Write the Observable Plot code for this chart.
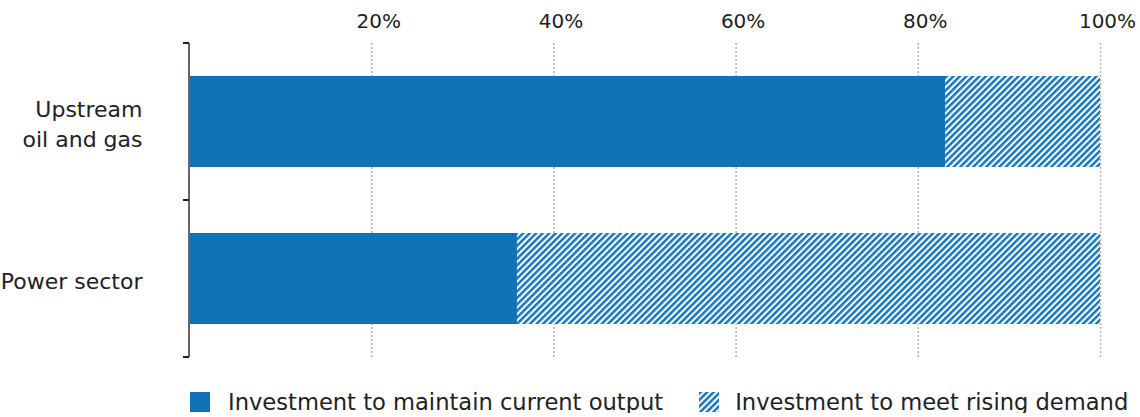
<!DOCTYPE html>
<html><head><meta charset="utf-8">
<script src="https://cdn.jsdelivr.net/npm/d3@7"></script>
<script src="https://cdn.jsdelivr.net/npm/@observablehq/plot@0.6"></script>
<style>
body{margin:0;background:#fff;font-family:"DejaVu Sans",sans-serif;color:#222;}
#chart svg{display:block;}
#legend{display:flex;align-items:center;margin-left:190px;margin-top:16px;font-size:22.6px;line-height:22px;white-space:nowrap;}
#legend .sw{display:block;width:20px;height:20px;flex:none;}
</style></head><body>
<svg width="0" height="0" style="position:absolute"><defs>
<pattern id="hatch" patternUnits="userSpaceOnUse" width="4.6" height="4.6" patternTransform="rotate(45)">
<rect width="4.6" height="4.6" fill="#ffffff"/><rect width="2.5" height="4.6" fill="#1476bd"/>
</pattern></defs></svg>
<div id="chart"></div>
<div id="legend"></div>
<script>
const categories = ["Upstream oil and gas", "Power sector"];
const categoryLabels = ["Upstream\noil and gas", "Power sector"];
const maintainShare = [83, 36];
const risingShare = [17, 64];
const xTicks = [20, 40, 60, 80, 100];
const seriesNames = ["Investment to maintain current output", "Investment to meet rising demand"];
const seriesFills = ["#0f73b8", "url(#hatch)"];

const rows = categories.map((c, i) => ({sector: c, maintain: maintainShare[i], rising: risingShare[i]}));

function leftAxisLine(index, scales, values, dimensions) {
  const {marginTop, marginBottom, marginLeft, height} = dimensions;
  const top = marginTop, bottom = height - marginBottom;
  const bounds = [top, (top + bottom) / 2, bottom];
  const g = d3.create("svg:g");
  g.append("line").attr("x1", marginLeft).attr("x2", marginLeft).attr("y1", top).attr("y2", bottom)
    .attr("stroke", "#666").attr("stroke-width", 2);
  for (const b of bounds) g.append("line").attr("x1", marginLeft - 6).attr("x2", marginLeft)
    .attr("y1", b).attr("y2", b).attr("stroke", "#222").attr("stroke-width", 2);
  return g.node();
}

const chart = Plot.plot({
  width: 1140, height: 375,
  marginLeft: 189, marginRight: 40, marginTop: 43, marginBottom: 18,
  style: {fontFamily: "DejaVu Sans", fontSize: "20px", color: "#222", background: "#fff"},
  x: {domain: [0, 100], label: null},
  y: {domain: categories, paddingInner: 0.42, paddingOuter: 0.21, align: 0.5, label: null},
  marks: [
    Plot.gridX(xTicks, {stroke: "#b0b0b0", strokeOpacity: 1, strokeDasharray: "2,2", strokeWidth: 1.5}),
    Plot.barX(rows, {y: "sector", x1: 0, x2: "maintain", fill: seriesFills[0]}),
    Plot.barX(rows, {y: "sector", x1: "maintain", x2: d => d.maintain + d.rising, fill: seriesFills[1]}),
    Plot.axisX(xTicks, {anchor: "top", tickSize: 0, tickPadding: 16, dx: 7, tickFormat: d => d + "%", fontSize: 20, label: null}),
    Plot.axisY({tickSize: 0, tickPadding: 47, tickFormat: c => categoryLabels[categories.indexOf(c)], fontSize: 22, lineHeight: 1.36, label: null}),
    leftAxisLine
  ]
});
document.getElementById("chart").append(chart);

const legend = document.getElementById("legend");
seriesNames.forEach((name, i) => {
  const sw = document.createElementNS("http://www.w3.org/2000/svg", "svg");
  sw.setAttribute("class", "sw");
  sw.setAttribute("width", 20); sw.setAttribute("height", 20);
  sw.style.marginLeft = i === 0 ? "0px" : "36px";
  const r = document.createElementNS("http://www.w3.org/2000/svg", "rect");
  r.setAttribute("width", 20); r.setAttribute("height", 20); r.setAttribute("fill", seriesFills[i]);
  sw.append(r);
  const t = document.createElement("span");
  t.textContent = name;
  t.style.marginLeft = i === 0 ? "18px" : "16px";
  legend.append(sw, t);
});
</script>
</body></html>
